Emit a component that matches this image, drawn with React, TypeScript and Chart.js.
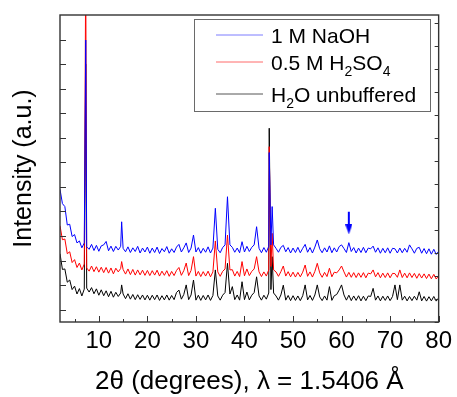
import React, { useEffect, useRef } from 'react';
import { Chart, registerables } from 'chart.js';

Chart.register(...registerables);

// 2θ sample positions (degrees)
const twoTheta = [
  2, 2.5, 3, 3.5, 4, 4.5, 5, 5.5, 6, 6.5, 7, 7.3, 7.5,
  8, 8.5, 9, 9.5, 10, 10.5, 11, 11.5, 12, 12.5, 13, 13.5, 14,
  14.5, 14.7, 15, 15.5, 16, 16.5, 17, 17.5, 18, 18.5, 19, 19.5, 20,
  20.5, 21, 21.5, 22, 22.5, 23, 23.5, 24, 24.5, 25, 25.5, 26, 26.5,
  27, 27.5, 28, 28.5, 29, 29.5, 30, 30.5, 31, 31.5, 32, 32.5, 33,
  33.5, 34, 34.5, 35, 35.5, 36, 36.5, 37, 37.5, 38, 38.5, 39, 39.5,
  40, 40.5, 41, 41.5, 42, 42.5, 43, 43.5, 44, 44.5, 45, 45.1, 45.45,
  45.7, 46, 46.5, 47, 47.5, 48, 48.5, 49, 49.5, 50, 50.5, 51, 51.5,
  52, 52.5, 53, 53.5, 54, 54.5, 55, 55.5, 56, 56.5, 57, 57.5, 58,
  58.5, 59, 59.5, 60, 60.5, 61, 61.5, 62, 62.5, 63, 63.5, 64, 64.5,
  65, 65.5, 66, 66.5, 67, 67.5, 68, 68.5, 69, 69.5, 70, 70.5, 71,
  71.5, 72, 72.5, 73, 73.5, 74, 74.5, 75, 75.5, 76, 76.5, 77, 77.5,
  78, 78.5, 79, 79.5, 80,
];

// 1 M NaOH (offset trace, a.u.)
const naohIntensity = [
  490, 432, 420, 345, 348, 298, 306, 272, 280, 252, 272, 1098, 256,
  246, 266, 241, 262, 238, 260, 264, 278, 240, 259, 237, 258, 243,
  258, 358, 250, 236, 256, 233, 252, 237, 258, 231, 251, 235, 255,
  230, 251, 233, 255, 229, 249, 236, 257, 230, 248, 233, 255, 266,
  235, 252, 272, 233, 251, 304, 235, 253, 230, 250, 234, 256, 231,
  251, 413, 246, 232, 253, 264, 460, 264, 254, 234, 251, 232, 277,
  235, 258, 237, 254, 264, 338, 250, 232, 253, 234, 258, 640, 264,
  420, 264, 250, 234, 254, 262, 236, 253, 231, 251, 233, 254, 232,
  250, 266, 234, 253, 231, 255, 284, 248, 232, 252, 235, 260, 232,
  252, 235, 257, 264, 249, 233, 273, 237, 253, 231, 251, 233, 254,
  232, 251, 248, 259, 234, 252, 230, 250, 232, 252, 230, 250, 248,
  231, 251, 232, 250, 234, 264, 248, 230, 250, 254, 230, 249, 228,
  248, 226, 246, 225, 238,
];

// 0.5 M H2SO4 (offset trace, a.u.)
const h2so4Intensity = [
  342, 285, 288, 228, 236, 192, 204, 172, 190, 162, 186, 1400, 170,
  157, 178, 155, 175, 153, 173, 151, 172, 149, 170, 146, 169, 154,
  168, 196, 164, 145, 166, 143, 164, 141, 162, 142, 161, 140, 160,
  139, 159, 141, 161, 137, 157, 140, 159, 136, 156, 139, 160, 172,
  140, 159, 190, 139, 160, 216, 137, 156, 135, 155, 137, 157, 134,
  154, 280, 154, 136, 156, 166, 304, 162, 163, 137, 156, 135, 196,
  138, 166, 139, 156, 166, 216, 154, 135, 154, 137, 162, 664, 176,
  311, 162, 154, 136, 155, 178, 137, 155, 134, 153, 133, 152, 134,
  153, 182, 136, 154, 133, 156, 189, 150, 132, 152, 135, 169, 134,
  153, 150, 162, 178, 154, 133, 152, 132, 151, 131, 150, 132, 151,
  130, 149, 146, 162, 134, 151, 130, 149, 131, 150, 130, 148, 147,
  132, 162, 131, 149, 130, 150, 131, 148, 128, 147, 129, 146, 127,
  145, 126, 144, 125, 138,
];

// H2O unbuffered (a.u.)
const h2oIntensity = [
  228, 164, 166, 112, 121, 82, 96, 64, 86, 56, 84, 1000, 88,
  72, 90, 65, 85, 59, 81, 57, 77, 53, 75, 51, 71, 54,
  68, 101, 64, 45, 65, 43, 62, 41, 61, 42, 60, 40, 59,
  39, 59, 41, 60, 38, 57, 40, 60, 39, 58, 41, 70, 80,
  43, 62, 101, 41, 60, 121, 39, 59, 38, 58, 40, 60, 38,
  58, 162, 56, 39, 59, 70, 189, 64, 94, 41, 60, 39, 114,
  41, 72, 40, 59, 70, 134, 56, 39, 59, 43, 68, 739, 82,
  216, 68, 56, 39, 60, 100, 39, 58, 37, 57, 38, 56, 37,
  57, 101, 40, 58, 38, 60, 101, 52, 37, 56, 39, 94, 38,
  57, 62, 80, 101, 60, 39, 59, 37, 56, 38, 57, 36, 55,
  37, 56, 54, 87, 39, 56, 36, 55, 38, 56, 37, 54, 101,
  41, 101, 39, 55, 36, 54, 37, 55, 39, 73, 36, 54, 35,
  53, 36, 54, 35, 48,
];

const seriesLabels = ['1 M NaOH', '0.5 M H_2SO_4', 'H_2O unbuffered'];
const seriesColors = ['#0000ff', '#ff0000', '#000000'];
const legendLineColors = ['#7c7cff', '#ff6a6a', '#555555'];

// marker arrow over the NaOH reflection
const arrowX = [61.5, 61.5];
const arrowY = [399, 327];

const xTickValues = [5, 10, 15, 20, 25, 30, 35, 40, 45, 50, 55, 60, 65, 70, 75, 80];
const xLabelValues = [10, 20, 30, 40, 50, 60, 70, 80];
const yTickValues = [0, 100, 200, 300, 400, 500, 600, 700, 800, 900, 1000, 1100];
const y2TickValues = [0, 1, 2, 3, 4, 5, 6, 7, 8, 9, 10, 11, 12, 13];

const xTitle = '2θ (degrees), λ = 1.5406 Å';
const yTitle = 'Intensity (a.u.)';

const FONT = "'Liberation Sans', Arial, sans-serif";

function makeArrowHead(color: string) {
  const c = document.createElement('canvas');
  c.width = 7;
  c.height = 10;
  const g = c.getContext('2d')!;
  g.fillStyle = color;
  g.beginPath();
  g.moveTo(0, 0);
  g.lineTo(7, 0);
  g.lineTo(3.5, 10);
  g.closePath();
  g.fill();
  return c;
}

const framePlugin = {
  id: 'frameTicks',
  afterDraw(chart: any) {
    const { ctx, chartArea } = chart;
    const { left, right, top, bottom } = chartArea;
    const xs = chart.scales.x;
    const ys = chart.scales.y;
    const ys2 = chart.scales.y2;
    ctx.save();
    ctx.strokeStyle = '#333';
    ctx.lineWidth = 1;
    ctx.beginPath();
    xs.ticks.forEach((t: any) => {
      const px = Math.round(xs.getPixelForValue(t.value)) + 0.5;
      const len = t.value % 10 === 0 ? 6 : 3;
      ctx.moveTo(px, bottom);
      ctx.lineTo(px, bottom - len);
    });
    ys.ticks.forEach((t: any) => {
      const py = Math.round(ys.getPixelForValue(t.value)) + 0.5;
      ctx.moveTo(left, py);
      ctx.lineTo(left + 6, py);
    });
    ys2.ticks.forEach((t: any) => {
      const py = Math.round(ys2.getPixelForValue(t.value)) + 0.5;
      ctx.moveTo(right, py);
      ctx.lineTo(right - 4, py);
    });
    ctx.stroke();
    ctx.lineWidth = 1.4;
    ctx.strokeStyle = '#333';
    ctx.strokeRect(left, top, right - left, bottom - top);
    ctx.restore();
  },
};

const legendPlugin = {
  id: 'subscriptLegend',
  afterDraw(chart: any) {
    const { ctx } = chart;
    const boxL = 194.5, boxT = 19.5, boxW = 236, boxH = 92;
    const rowY = [35, 62, 94];
    ctx.save();
    ctx.fillStyle = '#fff';
    ctx.fillRect(boxL, boxT, boxW, boxH);
    ctx.strokeStyle = '#6a6a6a';
    ctx.lineWidth = 1;
    ctx.strokeRect(boxL, boxT, boxW, boxH);
    seriesLabels.forEach((label, i) => {
      const y = rowY[i];
      ctx.strokeStyle = legendLineColors[i];
      ctx.lineWidth = 1;
      ctx.beginPath();
      ctx.moveTo(216, y);
      ctx.lineTo(263, y);
      ctx.stroke();
      let x = 271;
      const base = y + 8;
      ctx.fillStyle = '#000';
      ctx.textBaseline = 'alphabetic';
      ctx.textAlign = 'left';
      const parts = label.split(/(_\d)/).filter((p) => p.length);
      parts.forEach((p) => {
        if (p.startsWith('_')) {
          ctx.font = `14px ${FONT}`;
          const s = p.slice(1);
          ctx.fillText(s, x, base + 6);
          x += ctx.measureText(s).width;
        } else {
          ctx.font = `21px ${FONT}`;
          ctx.fillText(p, x, base);
          x += ctx.measureText(p).width;
        }
      });
    });
    ctx.restore();
  },
};

export default function App() {
  const canvasRef = useRef<HTMLCanvasElement | null>(null);

  useEffect(() => {
    document.body.style.margin = '0';
    const canvas = canvasRef.current;
    if (!canvas) return;
    const mk = (arr: number[]) => twoTheta.map((x, i) => ({ x, y: arr[i] }));
    const arrowHead = makeArrowHead('#0000ff');
    const chart = new Chart(canvas, {
      type: 'line',
      data: {
        datasets: [
          {
            label: 'arrow',
            data: arrowX.map((x, i) => ({ x, y: arrowY[i] })),
            borderColor: '#0000ff',
            borderWidth: 2,
            pointRadius: [0, 4],
            pointStyle: arrowHead as any,
          },
          {
            label: seriesLabels[0],
            data: mk(naohIntensity),
            borderColor: seriesColors[0],
            borderWidth: 1,
            pointRadius: 0,
          },
          {
            label: seriesLabels[1],
            data: mk(h2so4Intensity),
            borderColor: seriesColors[1],
            borderWidth: 1,
            pointRadius: 0,
          },
          {
            label: seriesLabels[2],
            data: mk(h2oIntensity),
            borderColor: seriesColors[2],
            borderWidth: 1,
            pointRadius: 0,
          },
        ],
      },
      options: {
        animation: false,
        responsive: false,
        devicePixelRatio: 1,
        layout: { padding: { top: 15, left: 0, right: 0, bottom: 0 } },
        plugins: {
          legend: { display: false },
          tooltip: { enabled: false },
        },
        elements: { line: { tension: 0 } },
        scales: {
          x: {
            type: 'linear',
            position: 'bottom',
            min: 2,
            max: 80,
            grid: { display: false, drawTicks: false },
            border: { display: false },
            afterBuildTicks: (s: any) => {
              s.ticks = xTickValues.map((v) => ({ value: v }));
            },
            ticks: {
              padding: 5,
              color: '#000',
              font: { size: 24, family: FONT },
              autoSkip: false,
              maxRotation: 0,
              callback: (v: any) => (xLabelValues.includes(Number(v)) ? String(v) : ''),
            },
            title: {
              display: true,
              text: xTitle,
              color: '#000',
              font: { size: 26, family: FONT },
              padding: { top: 0, bottom: 0 },
            },
            afterFit: (s: any) => {
              s.height = 75;
            },
          },
          y: {
            type: 'linear',
            position: 'left',
            min: -50,
            max: 1200,
            grid: { display: false, drawTicks: false },
            border: { display: false },
            afterBuildTicks: (s: any) => {
              s.ticks = yTickValues.map((v) => ({ value: v }));
            },
            ticks: { display: false },
            title: {
              display: true,
              text: yTitle,
              color: '#000',
              font: { size: 25, family: FONT },
              padding: { top: 9, bottom: 0 },
            },
            afterFit: (s: any) => {
              s.width = 60;
            },
          },
          y2: {
            type: 'linear',
            position: 'right',
            min: 0,
            max: 13.35,
            grid: { display: false, drawTicks: false },
            border: { display: false },
            afterBuildTicks: (s: any) => {
              s.ticks = y2TickValues.map((v) => ({ value: v }));
            },
            ticks: { display: false },
            afterFit: (s: any) => {
              s.width = 16;
            },
          },
        },
      } as any,
      plugins: [framePlugin, legendPlugin],
    });
    return () => chart.destroy();
  }, []);

  return (
    <div style={{ width: 457, height: 397 }}>
      <canvas ref={canvasRef} width={457} height={397} style={{ display: 'block', width: 457, height: 397 }} />
    </div>
  );
}
